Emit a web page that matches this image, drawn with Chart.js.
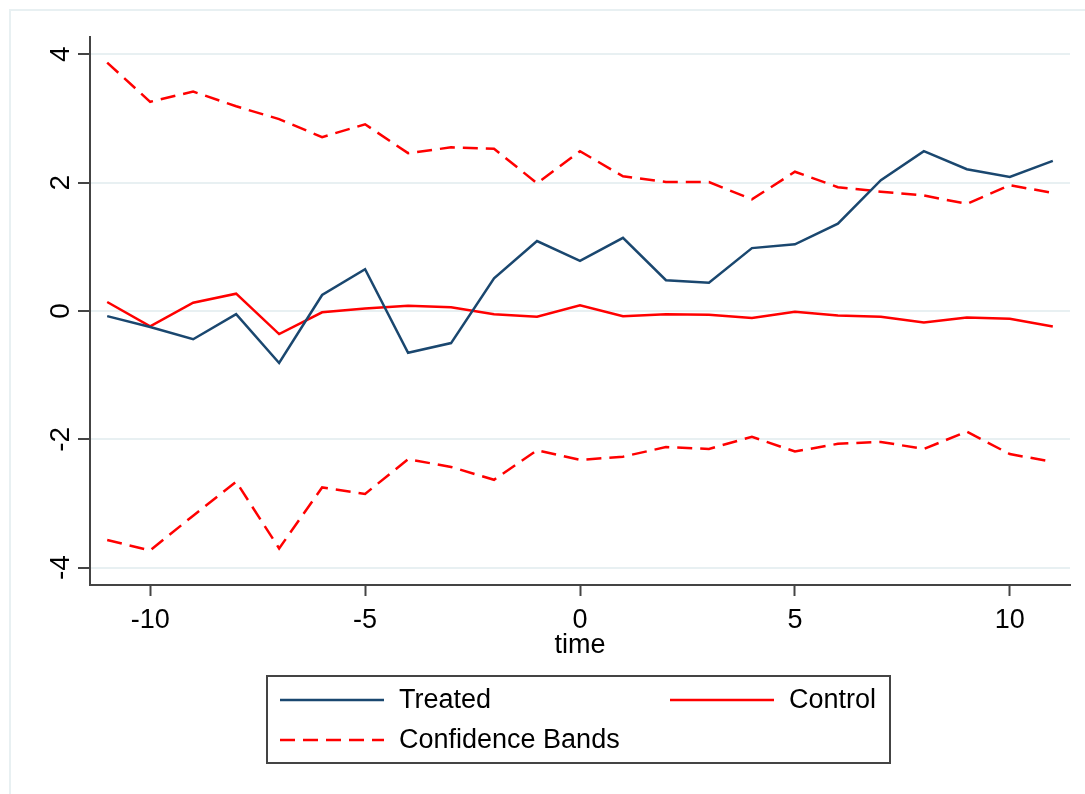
<!DOCTYPE html>
<html>
<head>
<meta charset="utf-8">
<title>Treated vs Control</title>
<script src="https://cdn.jsdelivr.net/npm/chart.js@4.4.1/dist/chart.umd.min.js"></script>
<style>
  html, body { margin: 0; padding: 0; background: #fff; }
  #wrap { width: 1085px; height: 794px; }
</style>
</head>
<body>
<div id="wrap"><canvas id="chart" width="1085" height="794"></canvas></div>
<script>
// ================= DATA =================
const time = [-11, -10, -9, -8, -7, -6, -5, -4, -3, -2, -1, 0, 1, 2, 3, 4, 5, 6, 7, 8, 9, 10, 11];
const treated = [-0.08, -0.25, -0.44, -0.05, -0.81, 0.25, 0.65, -0.65, -0.50, 0.51, 1.09, 0.78,
                 1.14, 0.48, 0.44, 0.98, 1.04, 1.36, 2.04, 2.49, 2.21, 2.09, 2.34];
const control = [0.14, -0.24, 0.13, 0.27, -0.36, -0.02, 0.04, 0.08, 0.06, -0.05, -0.09, 0.09,
                 -0.08, -0.05, -0.06, -0.11, -0.01, -0.07, -0.09, -0.18, -0.10, -0.12, -0.24];
const upperBand = [3.87, 3.26, 3.42, 3.19, 2.99, 2.71, 2.91, 2.46, 2.55, 2.53, 1.99, 2.49,
                   2.10, 2.01, 2.01, 1.74, 2.17, 1.93, 1.86, 1.80, 1.67, 1.96, 1.84];
const lowerBand = [-3.57, -3.73, -3.19, -2.66, -3.70, -2.75, -2.85, -2.31, -2.43, -2.63, -2.17, -2.32,
                   -2.27, -2.12, -2.15, -1.96, -2.19, -2.07, -2.04, -2.15, -1.88, -2.23, -2.35];
const xTicks = [-10, -5, 0, 5, 10];
const yTicks = [-4, -2, 0, 2, 4];

const NAVY = "#1a476f";
const RED = "#ff0000";
const FONT = '"Liberation Sans", Arial, sans-serif';
const DASH = [15, 8];

Chart.defaults.font.family = FONT;

const pts = arr => time.map((t, i) => ({ x: t, y: arr[i] }));

// ================= PLUGINS =================
// light outer frame like the Stata graph region
const frame = {
    id: "frame",
    beforeDraw(chart) {
        const ctx = chart.ctx;
        ctx.save();
        ctx.fillStyle = "#fff";
        ctx.fillRect(0, 0, chart.width, chart.height);
        ctx.strokeStyle = "#e8f0f2";
        ctx.lineWidth = 2;
        ctx.strokeRect(10, 10, chart.width + 20, chart.height + 20);
        ctx.restore();
    }
};

// rotated y tick labels (read bottom to top)
const yLabels = {
    id: "yLabels",
    afterDraw(chart) {
        const { ctx, scales: { y } } = chart;
        ctx.save();
        ctx.fillStyle = "#000";
        ctx.font = "28px " + FONT;
        ctx.textAlign = "center";
        ctx.textBaseline = "alphabetic";
        y.ticks.forEach(t => {
            ctx.save();
            ctx.translate(y.right - 21, y.getPixelForValue(t.value));
            ctx.rotate(-Math.PI / 2);
            ctx.fillText(t.label, 0, 0);
            ctx.restore();
        });
        ctx.restore();
    }
};

// boxed legend, two columns
const boxLegend = {
    id: "boxLegend",
    afterDraw(chart) {
        const ctx = chart.ctx;
        const ds = chart.data.datasets;
        const items = [
            { d: ds[0], lx: 280, ty: 700 },
            { d: ds[1], lx: 670, ty: 700 },
            { d: ds[2], lx: 280, ty: 740 }
        ];
        ctx.save();
        ctx.strokeStyle = "#444";
        ctx.lineWidth = 2;
        ctx.strokeRect(267, 676, 623, 87);

        ctx.font = "27px " + FONT;
        ctx.fillStyle = "#000";
        ctx.textBaseline = "middle";
        items.forEach(it => {
            ctx.beginPath();
            ctx.strokeStyle = it.d.borderColor;
            ctx.lineWidth = it.d.borderWidth;
            ctx.setLineDash(it.d.borderDash || []);
            ctx.moveTo(it.lx, it.ty);
            ctx.lineTo(it.lx + 104, it.ty);
            ctx.stroke();
            ctx.setLineDash([]);
            ctx.fillText(it.d.label, it.lx + 119, it.ty + 1);
        });
        ctx.restore();
    }
};

// ================= CHART =================
new Chart(document.getElementById("chart"), {
    type: "line",
    data: {
        datasets: [
            { label: "Treated", data: pts(treated), borderColor: NAVY, borderWidth: 2.5 },
            { label: "Control", data: pts(control), borderColor: RED, borderWidth: 2.5 },
            { label: "Confidence Bands", data: pts(upperBand), borderColor: RED, borderWidth: 2.5, borderDash: DASH },
            { label: "Lower Band", data: pts(lowerBand), borderColor: RED, borderWidth: 2.5, borderDash: DASH }
        ]
    },
    options: {
        responsive: false,
        animation: false,
        devicePixelRatio: 1,
        layout: { padding: { left: 0, top: 37, right: 15, bottom: 132 } },
        elements: { point: { radius: 0 }, line: { tension: 0, fill: false } },
        plugins: { legend: { display: false }, tooltip: { enabled: false } },
        scales: {
            x: {
                type: "linear",
                min: -11.4,
                max: 11.4,
                afterBuildTicks: s => { s.ticks = xTicks.map(v => ({ value: v })); },
                afterFit: s => { s.height = 77; },
                grid: { drawOnChartArea: false, tickLength: 11, tickColor: "#444", tickWidth: 2 },
                border: { color: "#444", width: 2 },
                ticks: { color: "#000", font: { size: 27 }, padding: 8, maxRotation: 0 },
                title: { display: true, text: "time", color: "#000", font: { size: 27 }, padding: 0 }
            },
            y: {
                type: "linear",
                min: -4.27,
                max: 4.27,
                afterBuildTicks: s => { s.ticks = yTicks.map(v => ({ value: v })); },
                afterFit: s => { s.width = 90; },
                grid: { color: "#e8f0f2", lineWidth: 2, tickLength: 12, tickColor: "#444", tickWidth: 2 },
                border: { color: "#444", width: 2 },
                ticks: { display: false }
            }
        }
    },
    plugins: [frame, yLabels, boxLegend]
});
</script>
</body>
</html>
